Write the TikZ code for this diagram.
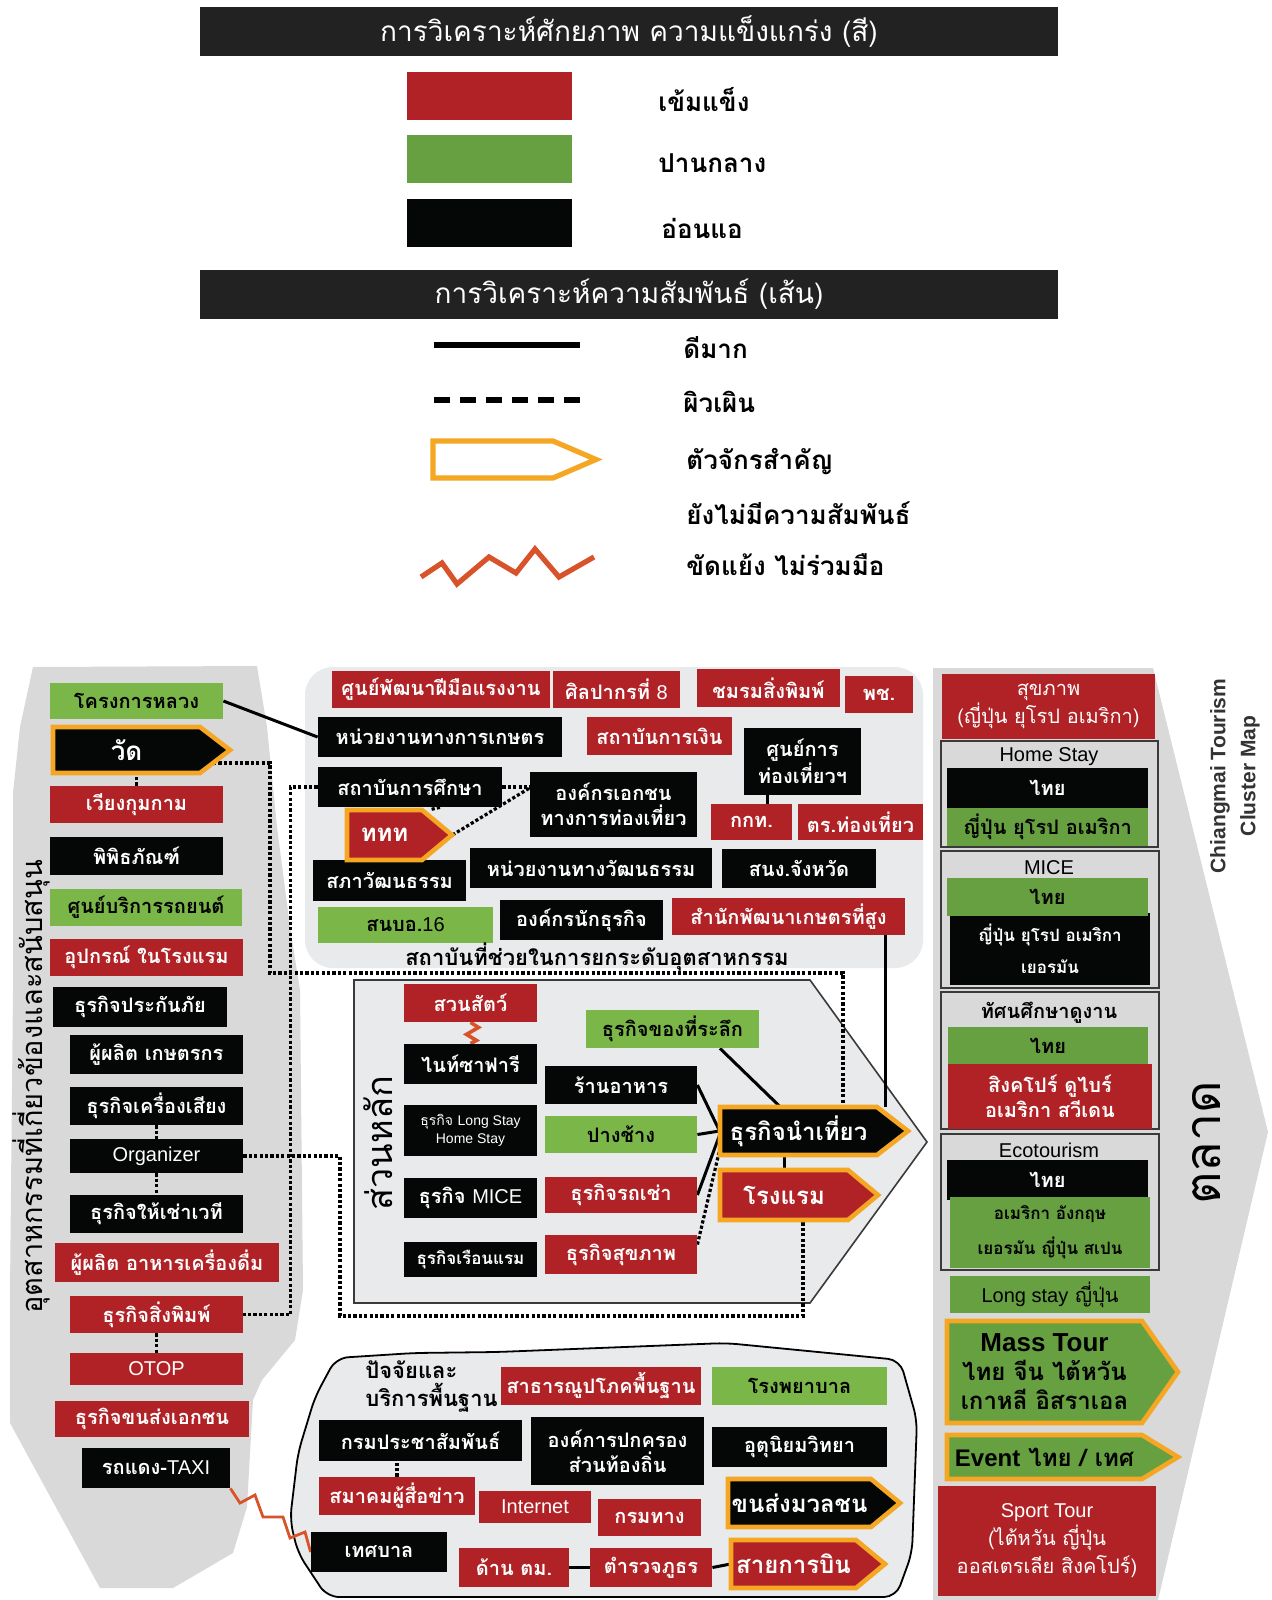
\documentclass[tikz,border=0pt]{standalone}
\usepackage{fontspec}
\setmainfont{Loma}[Script=Thai]
\newfontfamily\lat{Liberation Sans}
\usetikzlibrary{calc}

\definecolor{cred}{HTML}{B02226}
\definecolor{cgreen}{HTML}{7AB648}
\definecolor{cgreenD}{HTML}{66A041}
\definecolor{cblack}{HTML}{050707}
\definecolor{chead}{HTML}{222222}
\definecolor{corange}{HTML}{F5A623}
\definecolor{czig}{HTML}{D9532A}
\definecolor{cgray}{HTML}{D9D9D9}
\definecolor{clight}{HTML}{E9EAEC}
\definecolor{cedge}{HTML}{3A3A3A}
\definecolor{ctitle}{HTML}{333333}

\pgfdeclarelayer{regions}
\pgfdeclarelayer{lines}
\pgfsetlayers{regions,lines,main}

\tikzset{
  box/.style={rectangle, inner sep=0pt, align=center, font=\bfseries\fontsize{10}{12.5}\selectfont},
  rbox/.style={box, fill=cred, text=white},
  kbox/.style={box, fill=cblack, text=white},
  gbox/.style={box, fill=cgreen, text=black},
  dbox/.style={box, fill=cgreenD, text=black},
  swatch/.style={rectangle, inner sep=0pt},
  head/.style={fill=chead, text=white, inner sep=0pt, font=\fontsize{14}{16}\selectfont,
    minimum width=429pt, minimum height=24.5pt},
  lab/.style={anchor=west, inner sep=0pt, font=\bfseries\fontsize{13}{15}\selectfont},
  grouptitle/.style={inner sep=0pt, font=\lat\fontsize{10}{12}\selectfont},
  solidl/.style={line width=1.5pt, black},
  dotl/.style={line width=1.6pt, black, dash pattern=on 1.6pt off 1.1pt},
  zig/.style={line width=1.4pt, czig, line join=miter},
  keyedge/.style={line width=2.3pt, draw=corange, line join=miter},
  groupframe/.style={draw=cedge, line width=0.9pt},
}

% box from its corners: name, x1, y1, x2, y2, style, text
\newcommand\boxat[7]{\node[#6, minimum width={(#4-#2)*0.5pt}, minimum height={(#5-#3)*0.5pt}]
  (#1) at ({(#2+#4)/2},{(#3+#5)/2}) {#7};}
% key player arrow: name, x1, y1, body end, y2, tip, fill, text colour, text
\newcommand\keyat[9]{\draw[keyedge, fill=#7] (#2,#3) -- (#4,#3) -- (#6,{(#3+#5)/2}) -- (#4,#5) -- (#2,#5) -- cycle;
  \node[box, text=#8, font=\bfseries\fontsize{12}{14.5}\selectfont, minimum width={(#4-#2)*0.5pt}, minimum height={(#5-#3)*0.5pt}]
  (#1) at ({(#2+#4)/2},{(#3+#5)/2}) {#9};}

\begin{document}
\begin{tikzpicture}[x=0.5pt,y=-0.5pt]
\useasboundingbox (0,0) rectangle (1271,1600);

% ---------- background regions ----------
\begin{pgfonlayer}{regions}
  \fill[white] (0,0) rectangle (1271,1600);
  % supporting industries
  \fill[cgray] (33,667) -- (257,666) -- (267,727) -- (277,827) -- (290,927) -- (300,990)
    -- (303,1290) -- (295,1340) -- (262,1380) -- (253,1400) -- (247,1507) -- (233,1553)
    -- (173,1588) -- (100,1588) -- (10,1423) -- (10,1290) -- (13,990) -- (13,793) -- (20,727) -- cycle;
  % institutions
  \fill[clight, rounded corners=14pt] (305,667) rectangle (923,968);
  % core section
  \filldraw[fill=clight, draw=cedge, line width=0.8pt]
    (354,980) -- (810,980) -- (927,1142) -- (810,1303) -- (354,1303) -- cycle;
  % basic factors
  \filldraw[fill=clight, draw=black, line width=0.9pt, rounded corners=6pt]
    (336,1358) -- (414,1353) -- (497,1352) -- (726,1343) -- (900,1360) -- (917,1420)
    -- (912,1553) -- (896,1597) -- (327,1597) -- (298,1553) -- (290,1520) -- (298,1453)
    -- (315,1397) -- cycle;
  % market
  \fill[cgray] (933,668) -- (1153,668) -- (1268,1132) -- (1158,1600) -- (933,1600) -- cycle;
\end{pgfonlayer}

% ---------- legend ----------
\node[head] (h1) at (629,31.5) {การวิเคราะห์ศักยภาพ ความแข็งแกร่ง (สี)};
\boxat{kred}{407}{72}{572}{120}{swatch, fill=cred}{}
\boxat{kgreen}{407}{135}{572}{183}{swatch, fill=cgreenD}{}
\boxat{kblack}{407}{199}{572}{247}{swatch, fill=cblack}{}
\node[lab] (lred) at (658,100) {เข้มแข็ง};
\node[lab] (lgreen) at (658,163) {ปานกลาง};
\node[lab] (lblack) at (661,228) {อ่อนแอ};

\node[head] (h2) at (629,294) {การวิเคราะห์ความสัมพันธ์ (เส้น)};
\coordinate (sl1) at (434,345); \coordinate (sl2) at (580,345);
\draw[line width=2.6pt] (sl1) -- (sl2);
\coordinate (dl1) at (434,400); \coordinate (dl2) at (580,400);
\draw[line width=2.6pt, dash pattern=on 8pt off 5pt] (dl1) -- (dl2);
\draw[keyedge, line width=2.6pt] (433,441) -- (553,441) -- (596,459.5) -- (553,478) -- (433,478) -- cycle;
\draw[zig, line width=2.6pt] (421,577) -- (442,563) -- (457,584) -- (489,557) -- (516,573)
  -- (535,549) -- (559,577) -- (594,557);
\node[lab] (lgood) at (683,348) {ดีมาก};
\node[lab] (lweak) at (683,402) {ผิวเผิน};
\node[lab] (lkey) at (686,462) {ตัวจักรสำคัญ};
\node[lab] (lnone) at (686,513) {ยังไม่มีความสัมพันธ์};
\node[lab] (lconf) at (686,565) {ขัดแย้ง ไม่ร่วมมือ};

% ---------- supporting industries ----------
\node[rotate=90, inner sep=0pt, font=\fontsize{14.5}{17}\selectfont] (suptitle) at (31,1087)
  {อุตสาหกรรมที่เกี่ยวข้องและสนับสนุน};
\boxat{kls}{50}{683}{223}{719}{gbox}{โครงการหลวง}
\keyat{wat}{53}{727}{200}{773}{230}{cblack}{white}{{\fontsize{13}{15}\selectfont วัด}}
\boxat{wiang}{50}{786}{223}{823}{rbox}{เวียงกุมกาม}
\boxat{museum}{50}{837}{223}{875}{kbox}{พิพิธภัณฑ์}
\boxat{car}{50}{889}{242}{926}{gbox}{ศูนย์บริการรถยนต์}
\boxat{equip}{50}{939}{243}{976}{rbox}{อุปกรณ์ ในโรงแรม}
\boxat{insur}{53}{987}{227}{1027}{kbox}{ธุรกิจประกันภัย}
\boxat{farmer}{70}{1035}{243}{1074}{kbox}{ผู้ผลิต เกษตรกร}
\boxat{sound}{70}{1087}{243}{1125}{kbox}{ธุรกิจเครื่องเสียง}
\boxat{org}{70}{1139}{243}{1173}{kbox, font=\lat\fontsize{10}{12}\selectfont}{Organizer}
\boxat{stage}{70}{1195}{243}{1233}{kbox}{ธุรกิจให้เช่าเวที}
\boxat{food}{55}{1243}{279}{1282}{rbox}{ผู้ผลิต อาหารเครื่องดื่ม}
\boxat{print}{70}{1296}{243}{1333}{rbox}{ธุรกิจสิ่งพิมพ์}
\boxat{otop}{70}{1353}{243}{1385}{rbox, font=\lat\fontsize{10}{12}\selectfont}{OTOP}
\boxat{trans}{55}{1401}{249}{1437}{rbox}{ธุรกิจขนส่งเอกชน}
\boxat{taxi}{82}{1448}{230}{1488}{kbox}{รถแดง-{\lat\mdseries TAXI}}

% ---------- institutions ----------
\boxat{skill}{332}{671}{550}{708}{rbox}{ศูนย์พัฒนาฝีมือแรงงาน}
\boxat{fineart}{553}{671}{680}{708}{rbox}{ศิลปากรที่ {\lat\mdseries 8}}
\boxat{printclub}{697}{669}{840}{707}{rbox}{ชมรมสิ่งพิมพ์}
\boxat{pch}{845}{676}{913}{713}{rbox}{พช.}
\boxat{agr}{318}{717}{562}{757}{kbox}{หน่วยงานทางการเกษตร}
\boxat{fin}{587}{717}{732}{755}{rbox}{สถาบันการเงิน}
\boxat{tcc}{744}{728}{861}{795}{kbox}{ศูนย์การ\\ท่องเที่ยวฯ}
\boxat{edu}{318}{767}{502}{807}{kbox}{สถาบันการศึกษา}
\boxat{ngo}{530}{772}{697}{837}{kbox}{องค์กรเอกชน\\ทางการท่องเที่ยว}
\boxat{sat}{711}{804}{792}{840}{rbox}{กกท.}
\boxat{tpol}{798}{804}{923}{840}{rbox}{ตร.ท่องเที่ยว}
\boxat{culc}{313}{860}{466}{901}{kbox}{สภาวัฒนธรรม}
\keyat{tat}{347}{810}{422}{860}{452}{cred}{white}{ททท}
\boxat{culd}{470}{848}{712}{888}{kbox}{หน่วยงานทางวัฒนธรรม}
\boxat{prov}{722}{849}{876}{888}{kbox}{สนง.จังหวัด}
\boxat{snb}{318}{907}{493}{943}{gbox}{สนบอ.{\lat\mdseries 16}}
\boxat{biz}{500}{900}{663}{940}{kbox}{องค์กรนักธุรกิจ}
\boxat{hdc}{672}{898}{905}{935}{rbox}{สำนักพัฒนาเกษตรที่สูง}
\node[inner sep=0pt, font=\bfseries\fontsize{11}{13}\selectfont] (insttitle) at (597,957)
  {สถาบันที่ช่วยในการยกระดับอุตสาหกรรม};

% ---------- core section ----------
\node[rotate=90, inner sep=0pt, font=\fontsize{18}{20}\selectfont] (coretitle) at (378,1143) {ส่วนหลัก};
\boxat{zoo}{404}{984}{537}{1022}{rbox}{สวนสัตว์}
\boxat{night}{404}{1044}{537}{1084}{kbox}{ไนท์ซาฟารี}
\boxat{lstay}{404}{1105}{537}{1156}{kbox, font=\fontsize{7}{9}\selectfont}{ธุรกิจ {\lat Long Stay}\\{\lat Home Stay}}
\boxat{mice}{404}{1178}{537}{1218}{kbox}{ธุรกิจ {\lat\mdseries MICE}}
\boxat{inn}{404}{1242}{537}{1277}{kbox, font=\bfseries\fontsize{8.5}{10}\selectfont}{ธุรกิจเรือนแรม}
\boxat{souv}{586}{1010}{759}{1048}{gbox}{ธุรกิจของที่ระลึก}
\boxat{rest}{545}{1066}{697}{1104}{kbox}{ร้านอาหาร}
\boxat{eleph}{545}{1116}{697}{1153}{gbox}{ปางช้าง}
\boxat{rent}{545}{1177}{697}{1213}{rbox}{ธุรกิจรถเช่า}
\boxat{hlth}{545}{1235}{697}{1274}{rbox}{ธุรกิจสุขภาพ}
\keyat{tour}{720}{1107}{877}{1155}{908}{cblack}{white}{ธุรกิจนำเที่ยว}
\keyat{hotel}{720}{1170}{848}{1220}{878}{cred}{white}{โรงแรม}

% ---------- basic factors ----------
\node[anchor=west, align=left, inner sep=0pt, font=\bfseries\fontsize{11}{14}\selectfont] (basetitle)
  at (365,1387) {ปัจจัยและ\\บริการพื้นฐาน};
\boxat{util}{501}{1367}{701}{1405}{rbox}{สาธารณูปโภคพื้นฐาน}
\boxat{hosp}{712}{1367}{887}{1405}{gbox}{โรงพยาบาล}
\boxat{prd}{319}{1420}{522}{1461}{kbox}{กรมประชาสัมพันธ์}
\boxat{local}{531}{1417}{704}{1485}{kbox}{องค์การปกครอง\\ส่วนท้องถิ่น}
\boxat{met}{712}{1427}{887}{1467}{kbox}{อุตุนิยมวิทยา}
\boxat{press}{319}{1477}{475}{1515}{rbox}{สมาคมผู้สื่อข่าว}
\boxat{net}{479}{1491}{591}{1523}{rbox, font=\lat\fontsize{10}{12}\selectfont}{Internet}
\boxat{road}{598}{1499}{701}{1536}{rbox}{กรมทาง}
\keyat{mtrans}{728}{1479}{871}{1527}{900}{cblack}{white}{ขนส่งมวลชน}
\boxat{tes}{311}{1532}{447}{1572}{kbox}{เทศบาล}
\boxat{imm}{459}{1548}{569}{1587}{rbox}{ด้าน ตม.}
\boxat{police}{590}{1548}{712}{1587}{rbox}{ตำรวจภูธร}
\keyat{air}{731}{1540}{856}{1588}{885}{cred}{white}{สายการบิน}

% ---------- market ----------
\node[rotate=90, align=center, inner sep=0pt, text=ctitle,
  font=\lat\bfseries\fontsize{10.5}{15}\selectfont] (maptitle) at (1235,776) {Chiangmai Tourism\\Cluster Map};
\node[rotate=90, inner sep=0pt, font=\fontsize{25}{27}\selectfont] (mkttitle) at (1207,1143) {ตลาด};
\boxat{mhealth}{942}{674}{1155}{739}{rbox, font=\fontsize{10}{14}\selectfont}{สุขภาพ\\(ญี่ปุ่น ยุโรป อเมริกา)}
\draw[groupframe] (941,741) rectangle (1158,847);
\node[grouptitle] (hstitle) at (1049,757) {Home Stay};
\boxat{hs1}{947}{768}{1148}{808}{kbox}{ไทย}
\boxat{hs2}{947}{808}{1148}{846}{dbox}{ญี่ปุ่น ยุโรป อเมริกา}
\draw[groupframe] (941,851) rectangle (1159,988);
\node[grouptitle] (micetitle) at (1049,868) {MICE};
\boxat{mi2}{950}{913}{1150}{985}{kbox, font=\bfseries\fontsize{8.5}{10}\selectfont}{ญี่ปุ่น ยุโรป อเมริกา\\[6pt]เยอรมัน}
\boxat{mi1}{947}{878}{1148}{916}{dbox}{ไทย}
\draw[groupframe] (941,992) rectangle (1159,1129);
\node[grouptitle, font=\bfseries\fontsize{10}{12}\selectfont] (sttitle) at (1049,1013) {ทัศนศึกษาดูงาน};
\boxat{st1}{948}{1027}{1148}{1064}{dbox}{ไทย}
\boxat{st2}{948}{1064}{1152}{1129}{rbox}{สิงคโปร์ ดูไบร์\\อเมริกา สวีเดน}
\draw[groupframe] (941,1134) rectangle (1159,1270);
\node[grouptitle] (ecotitle) at (1049,1150) {Ecotourism};
\boxat{eco1}{947}{1160}{1148}{1200}{kbox}{ไทย}
\boxat{eco2}{950}{1197}{1150}{1268}{dbox, font=\bfseries\fontsize{8.5}{10}\selectfont}{อเมริกา อังกฤษ\\[6pt]เยอรมัน ญี่ปุ่น สเปน}
\boxat{lstayjp}{950}{1276}{1150}{1313}{dbox, font=\fontsize{10}{12}\selectfont}{{\lat Long stay} ญี่ปุ่น}
\keyat{mass}{947}{1321}{1142}{1423}{1178}{cgreenD}{black}{{\lat\fontsize{13}{15}\selectfont Mass Tour}\\ไทย จีน ไต้หวัน\\เกาหลี อิสราเอล}
\keyat{event}{947}{1435}{1142}{1479}{1178}{cgreenD}{black}{{\lat Event} ไทย / เทศ}
\boxat{sport}{938}{1486}{1156}{1596}{rbox, font=\fontsize{10}{14}\selectfont}{{\lat Sport Tour}\\(ไต้หวัน ญี่ปุ่น\\ออสเตรเลีย สิงคโปร์)}

% ---------- relations ----------
\begin{pgfonlayer}{lines}
  % strong ties
  \draw[solidl] (kls.east) -- (agr.west);
  \draw[solidl] ([xshift=-17.75pt]tcc.south) -- ([xshift=7.75pt]sat.north);
  \draw[solidl] ([xshift=48.25pt]hdc.south) -- ([xshift=48.25pt]hdc.south |- tour.north);
  \draw[solidl] ([xshift=23.75pt]souv.south) -- ([xshift=-9.25pt]tour.north);
  \draw[solidl] (rest.east) -- (tour.west);
  \draw[solidl] (eleph.east) -- (tour.west);
  \draw[solidl] (rent.east) -- ([yshift=-2pt]tour.west);
  \draw[solidl] (hotel.north) -- (hotel.north |- tour.south);
  \draw[solidl] (imm.east) -- (police.west);
  \draw[solidl] (police.east) -- (air.west);
  % loose ties
  \draw[dotl] ([yshift=-6.5pt]wat.center) -| (270,973) -| ([xshift=22.25pt]tour.north);
  \draw[dotl] (wiang.north) -- (wiang.north |- wat.south);
  \draw[dotl] (edu.west) -| ([xshift=23.5pt]print.east) -- (print.east);
  \draw[dotl] (org.east) -| (340,1316) -| ([xshift=9.5pt]hotel.south);
  \draw[dotl] (sound.south) -- (org.north);
  \draw[dotl] (org.south) -- (stage.north);
  \draw[dotl] (print.south) -- (otop.north);
  \draw[dotl] (edu.east) -- (ngo.west |- edu.east);
  \draw[dotl] ([xshift=15pt]edu.south) -- ([xshift=22.75pt]tat.north);
  \draw[dotl] ([xshift=15pt]tat.east) -- ([yshift=8.25pt]ngo.west);
  \draw[dotl] ([yshift=5pt]hlth.east) -- ([yshift=-9.5pt]tour.west);
  \draw[dotl] (press.north) -- (press.north |- prd.south);
  % conflicts
  \draw[zig] (taxi.south east) -- (240,1503) -- (255,1495) -- (263,1517) -- (283,1517)
    -- (290,1538) -- (305,1532) -- (tes.west);
  \draw[zig, line width=1.8pt] (zoo.south) -- ++(8,5) -- ++(-12,7) -- ++(10,6) -- (night.north);
\end{pgfonlayer}
\end{tikzpicture}
\end{document}
